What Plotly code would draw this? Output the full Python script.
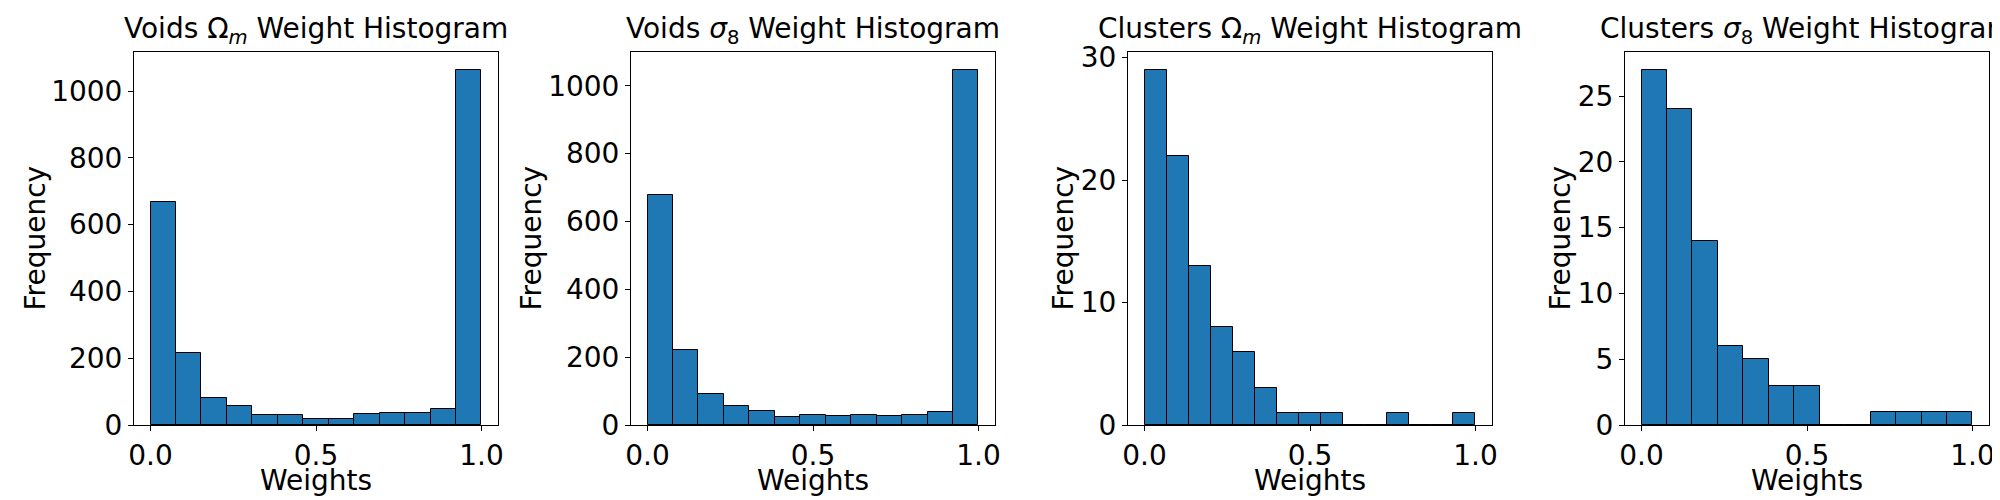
import numpy as np
import plotly.graph_objects as go

# histogram counts
titles = ["Voids Ω<sub><i>m</i></sub> Weight Histogram",
          "Voids <i>σ</i><sub>8</sub> Weight Histogram",
          "Clusters Ω<sub><i>m</i></sub> Weight Histogram",
          "Clusters <i>σ</i><sub>8</sub> Weight Histogram"]

voids_om = [668, 216, 81, 56, 29, 29, 17, 17, 32, 35, 35, 47, 1064]
voids_s8 = [677, 221, 92, 55, 40, 23, 29, 26, 29, 26, 29, 37, 1047]
clusters_om = [29, 22, 13, 8, 6, 3, 1, 1, 1, 0, 0, 1, 0, 0, 1]
clusters_s8 = [27, 24, 14, 6, 5, 3, 3, 0, 0, 1, 1, 1, 1]

weight_min = 0.0
weight_max = 1.0

x_ticks = [0.0, 0.5, 1.0]
y_ticks = [[0, 200, 400, 600, 800, 1000],
           [0, 200, 400, 600, 800, 1000],
           [0, 10, 20, 30],
           [0, 5, 10, 15, 20, 25]]

series = [voids_om, voids_s8, clusters_om, clusters_s8]

W, H = 2000, 500
left_px = [126, 623, 1120, 1617]
ax_w = 364
top_px, bot_px = 44, 417
ylab_off = [99, 100, 65, 65]

font = "DejaVu Sans"
fig = go.Figure()
annotations = []

for i, counts in enumerate(series):
    n = len(counts)
    edges = np.linspace(weight_min, weight_max, n + 1)
    centers = (edges[:-1] + edges[1:]) / 2
    bw = edges[1] - edges[0]
    xa = "x" if i == 0 else "x%d" % (i + 1)
    ya = "y" if i == 0 else "y%d" % (i + 1)
    fig.add_trace(go.Bar(
        x=centers, y=counts, width=bw,
        marker=dict(color="#1f77b4", line=dict(color="black", width=1)),
        xaxis=xa, yaxis=ya, showlegend=False,
    ))
    x0 = left_px[i] / W
    x1 = (left_px[i] + ax_w) / W
    span = weight_max - weight_min
    xaxis = dict(
        domain=[x0, x1], anchor=ya, automargin=False,
        range=[weight_min - 0.05 * span, weight_max + 0.05 * span],
        tickvals=x_ticks, tickformat=".1f",
        showgrid=False, zeroline=False,
        showline=True, mirror=True, linecolor="black", linewidth=1,
        ticks="outside", ticklen=5, tickcolor="black", tickwidth=1,
        tickfont=dict(family=font, size=28, color="black"),
    )
    yaxis = dict(
        domain=[1 - bot_px / H, 1 - top_px / H], anchor=xa, automargin=False,
        range=[0, max(counts) * 1.05],
        tickvals=y_ticks[i],
        showgrid=False, zeroline=False,
        showline=True, mirror=True, linecolor="black", linewidth=1,
        ticks="outside", ticklen=5, tickcolor="black", tickwidth=1,
        tickfont=dict(family=font, size=28, color="black"),
    )
    key = "" if i == 0 else str(i + 1)
    fig.update_layout({"xaxis" + key: xaxis, "yaxis" + key: yaxis})

    cx = (left_px[i] + ax_w / 2) / W
    annotations.append(dict(text=titles[i], x=cx, y=1 - 22 / H, xref="paper", yref="paper",
                            xanchor="center", yanchor="middle", showarrow=False,
                            font=dict(family=font, size=28, color="black")))
    annotations.append(dict(text="Weights", x=cx, y=1 - 472 / H, xref="paper", yref="paper",
                            xanchor="center", yanchor="middle", showarrow=False,
                            font=dict(family=font, size=28, color="black")))
    annotations.append(dict(text="Frequency", x=(left_px[i] - ylab_off[i]) / W,
                            y=1 - (top_px + bot_px) / 2 / H, xref="paper", yref="paper",
                            xanchor="center", yanchor="middle", textangle=-90, showarrow=False,
                            font=dict(family=font, size=28, color="black")))

fig.update_layout(
    width=W, height=H,
    margin=dict(l=0, r=0, t=0, b=0, autoexpand=False),
    paper_bgcolor="white", plot_bgcolor="white",
    bargap=0, annotations=annotations,
)

fig.write_html("out.html")
